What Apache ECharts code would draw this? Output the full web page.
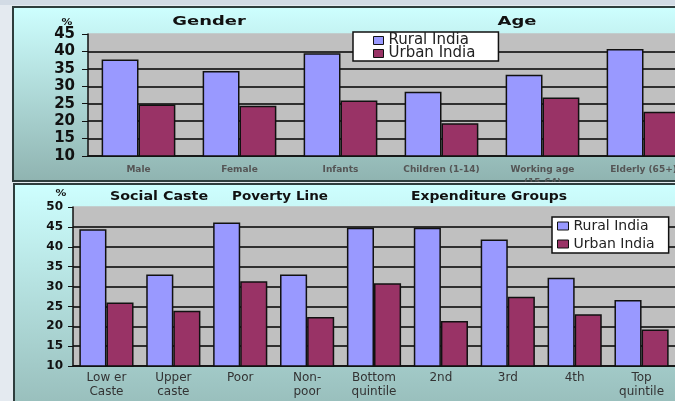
<!DOCTYPE html>
<html>
<head>
<meta charset="utf-8">
<script src="https://cdn.jsdelivr.net/npm/echarts@6/dist/echarts.min.js"></script>
<style>
    html, body { margin: 0; padding: 0; width: 675px; height: 401px; overflow: hidden; background: #e4eaf0; }
    #strip { position: absolute; left: 0; top: 0; width: 675px; height: 5px; background: #d2dbe5; }
    #top { position: absolute; left: 12px; top: 6px; width: 720px; height: 176px; }
    #bottom { position: absolute; left: 13px; top: 183px; width: 700px; height: 218px; }
</style>
</head>
<body>
<div id="strip"></div>
<div id="top"></div>
<div id="bottom"></div>
<script>
// 上图：按性别、年龄
var topCategories = ['Male', 'Female', 'Infants', 'Children (1-14)', 'Working age\n(15-64)', 'Elderly (65+)'];
var topRural = [37.7, 34.4, 39.5, 28.4, 33.3, 40.7];
var topUrban = [24.8, 24.4, 25.9, 19.4, 26.8, 22.7];
var topTicks = { min: 10, max: 45, interval: 5 };

// 下图：种姓、贫困线、支出分组
var bottomCategories = ['Low er\nCaste', 'Upper\ncaste', 'Poor', 'Non-\npoor', 'Bottom\nquintile', '2nd', '3rd', '4th', 'Top\nquintile'];
var bottomRural = [44.4, 33.0, 46.1, 33.0, 44.8, 44.8, 41.8, 32.2, 26.6];
var bottomUrban = [26.0, 23.9, 31.3, 22.3, 30.8, 21.3, 27.4, 23.0, 19.2];
var bottomTicks = { min: 10, max: 50, interval: 5 };

var seriesNames = ['Rural India', 'Urban India'];
var colors = ['#9999ff', '#993366'];

window.onload = function () {
    initTop();
    initBottom();
}

// 面板背景：渐变加边框
function panel(h) {
    return {
        type: 'rect',
        z: -10,
        shape: { x: 1, y: 1, width: 760, height: h },
        style: {
            fill: new echarts.graphic.LinearGradient(0, 0, 0, 1, [
                { offset: 0, color: '#ceffff' },
                { offset: 1, color: '#8fb3b0' }
            ]),
            stroke: '#2e3d3d',
            lineWidth: 2
        }
    };
}

// 标题文字，可横向拉伸
function label(text, x, y, size, sx) {
    return {
        type: 'text',
        x: x,
        y: y,
        scaleX: sx,
        style: {
            text: text,
            x: 0, y: 0,
            align: 'center', textAlign: 'center',
            verticalAlign: 'middle', textVerticalAlign: 'middle',
            font: 'bold ' + size + 'px "DejaVu Sans"',
            fill: '#111'
        }
    };
}

function gridLines(n) {
    var arr = [];
    for (var i = 0; i < n; i++) {
        arr.push('#000');
    }
    arr.push('#c0c0c0');
    return arr;
}

function makeSeries(rural, urban, gap) {
    return [rural, urban].map(function (d, i) {
        return {
            name: seriesNames[i],
            type: 'bar',
            data: d,
            barGap: '0%',
            barCategoryGap: gap,
            itemStyle: { color: colors[i], borderColor: '#111', borderWidth: 1.5 }
        };
    });
}

function initTop() {
    var chart = echarts.init(document.getElementById('top'));
    chart.setOption({
        animation: false,
        graphic: [
            panel(174),
            label('Gender', 197, 15.5, 13, 1.38),
            label('Age', 505, 15.5, 13, 1.38),
            label('%', 55, 17, 9, 1.2)
        ],
        legend: {
            data: seriesNames,
            orient: 'vertical',
            left: 341,
            top: 26,
            padding: [1, 23, 0, 20],
            itemGap: -2,
            itemWidth: 10,
            itemHeight: 8,
            icon: 'rect',
            backgroundColor: '#fff',
            borderColor: '#111',
            borderWidth: 1.5,
            borderRadius: 0,
            itemStyle: { borderWidth: 1 },
            textStyle: { fontFamily: 'DejaVu Sans', fontSize: 15, lineHeight: 13, color: '#222' }
        },
        grid: {
            show: true,
            left: 76,
            top: 28,
            width: 606,
            height: 122,
            outerBoundsMode: 'none',
            backgroundColor: '#c0c0c0',
            borderWidth: 0
        },
        xAxis: {
            type: 'category',
            data: topCategories,
            axisLine: { lineStyle: { color: '#111', width: 1.5 } },
            axisTick: { length: 4, lineStyle: { color: '#111' } },
            axisLabel: {
                interval: 0,
                margin: 7,
                fontFamily: 'DejaVu Sans',
                fontSize: 9,
                fontWeight: 'bold',
                color: '#555',
                lineHeight: 13
            }
        },
        yAxis: {
            type: 'value',
            min: topTicks.min,
            max: topTicks.max,
            interval: topTicks.interval,
            axisLine: { show: true, lineStyle: { color: '#111', width: 1.5 } },
            axisTick: { show: true, length: 6, lineStyle: { color: '#111' } },
            axisLabel: { margin: 13, fontFamily: 'DejaVu Sans', fontSize: 15, fontWeight: 'bold', color: '#111' },
            splitLine: { lineStyle: { color: gridLines(7), width: 1.5 } }
        },
        series: makeSeries(topRural, topUrban, '27%')
    });
}

function initBottom() {
    var chart = echarts.init(document.getElementById('bottom'));
    chart.setOption({
        animation: false,
        graphic: [
            panel(260),
            label('Social Caste', 146, 13.5, 13, 1.1),
            label('Poverty Line', 267, 13.5, 13, 1.04),
            label('Expenditure Groups', 476, 13.5, 13, 1.07),
            label('%', 48, 11, 9, 1.2)
        ],
        legend: {
            data: seriesNames,
            orient: 'vertical',
            left: 539,
            top: 34,
            padding: [1, 14, 1, 5],
            itemGap: 2,
            itemWidth: 11,
            itemHeight: 8,
            icon: 'rect',
            backgroundColor: '#fff',
            borderColor: '#111',
            borderWidth: 1.5,
            borderRadius: 0,
            itemStyle: { borderWidth: 1 },
            textStyle: { fontFamily: 'DejaVu Sans', fontSize: 14, lineHeight: 16, color: '#222' }
        },
        grid: {
            show: true,
            left: 60,
            top: 24,
            width: 602,
            height: 159,
            outerBoundsMode: 'none',
            backgroundColor: '#c0c0c0',
            borderWidth: 0
        },
        xAxis: {
            type: 'category',
            data: bottomCategories,
            axisLine: { lineStyle: { color: '#111', width: 1.5 } },
            axisTick: { length: 4, lineStyle: { color: '#111' } },
            axisLabel: {
                interval: 0,
                margin: 5,
                fontFamily: 'DejaVu Sans',
                fontSize: 12,
                color: '#333',
                lineHeight: 14
            }
        },
        yAxis: {
            type: 'value',
            min: bottomTicks.min,
            max: bottomTicks.max,
            interval: bottomTicks.interval,
            axisLine: { show: true, lineStyle: { color: '#111', width: 1.5 } },
            axisTick: { show: true, length: 5, lineStyle: { color: '#111' } },
            axisLabel: { margin: 10, fontFamily: 'DejaVu Sans', fontSize: 12, fontWeight: 'bold', color: '#111' },
            splitLine: { lineStyle: { color: gridLines(8), width: 1.5 } }
        },
        series: makeSeries(bottomRural, bottomUrban, '19%')
    });
}
</script>
</body>
</html>
